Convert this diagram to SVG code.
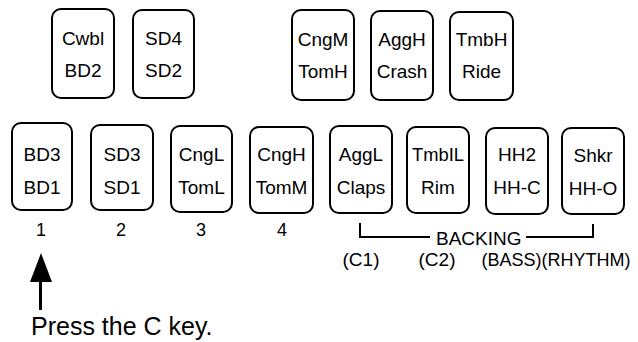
<svg xmlns="http://www.w3.org/2000/svg" width="638" height="342" viewBox="0 0 638 342">
<style>
.k{fill:#fff;stroke:#000;stroke-width:2}
text{font-family:"Liberation Sans",Arial,sans-serif;fill:#000}
.t{font-size:19px;text-anchor:middle}
.n{font-size:18px;text-anchor:middle}
.l{fill:none;stroke:#000;stroke-width:2}
</style>
<rect width="638" height="342" fill="#fff"/>
<g id="k-cwbl"><rect class="k" x="52" y="9" width="62" height="89" rx="9"/><text class="t" x="83" y="45">Cwbl</text><text class="t" x="83" y="77">BD2</text></g>
<g id="k-sd4"><rect class="k" x="133" y="10" width="61" height="88" rx="9"/><text class="t" x="163.5" y="45">SD4</text><text class="t" x="163.5" y="77">SD2</text></g>
<g id="k-cngm"><rect class="k" x="292" y="10" width="62" height="90" rx="9"/><text class="t" x="323" y="46">CngM</text><text class="t" x="323" y="78">TomH</text></g>
<g id="k-aggh"><rect class="k" x="371" y="11" width="62" height="89" rx="9"/><text class="t" x="402" y="46">AggH</text><text class="t" x="402" y="78">Crash</text></g>
<g id="k-tmbh"><rect class="k" x="450" y="12" width="63" height="88" rx="9"/><text class="t" x="481.5" y="46">TmbH</text><text class="t" x="481.5" y="78">Ride</text></g>
<g id="k-bd3"><rect class="k" x="12" y="123" width="60" height="87" rx="9"/><text class="t" x="42" y="161">BD3</text><text class="t" x="42" y="194">BD1</text></g>
<g id="k-sd3"><rect class="k" x="91" y="125" width="62" height="85" rx="9"/><text class="t" x="122" y="161">SD3</text><text class="t" x="122" y="194">SD1</text></g>
<g id="k-cngl"><rect class="k" x="171" y="126" width="61" height="86" rx="9"/><text class="t" x="201.5" y="161">CngL</text><text class="t" x="201.5" y="194">TomL</text></g>
<g id="k-cngh"><rect class="k" x="250" y="127" width="63" height="86" rx="9"/><text class="t" x="281.5" y="161">CngH</text><text class="t" x="281.5" y="194">TomM</text></g>
<g id="k-aggl"><rect class="k" x="330" y="126" width="62" height="87" rx="9"/><text class="t" x="361" y="161">AggL</text><text class="t" x="361" y="194">Claps</text></g>
<g id="k-tmbil"><rect class="k" x="407" y="127" width="62" height="86" rx="9"/><text class="t" x="438" y="161" textLength="52" lengthAdjust="spacingAndGlyphs">TmbIL</text><text class="t" x="438" y="194">Rim</text></g>
<g id="k-hh2"><rect class="k" x="486" y="128" width="62" height="86" rx="9"/><text class="t" x="517" y="161">HH2</text><text class="t" x="517" y="194">HH-C</text></g>
<g id="k-shkr"><rect class="k" x="562" y="128" width="62" height="86" rx="9"/><text class="t" x="593" y="162">Shkr</text><text class="t" x="593" y="195">HH-O</text></g>
<g id="labels">
<text class="n" x="41" y="236">1</text>
<text class="n" x="121" y="236">2</text>
<text class="n" x="201" y="236">3</text>
<text class="n" x="282" y="236">4</text>
<text x="436" y="245" font-size="19">BACKING</text>
<text class="t" x="361" y="266">(C1)</text>
<text class="t" x="437" y="266">(C2)</text>
<text class="n" x="556" y="266">(BASS)(RHYTHM)</text>
<text x="31" y="335" font-size="25">Press the C key.</text>
</g>
<g id="connectors">
<polyline class="l" points="360,223 360,237 430,237"/>
<polyline class="l" points="526,237 593,237 593,224"/>
<line x1="40.5" y1="276" x2="40.5" y2="310" stroke="#000" stroke-width="3"/>
<polygon points="41,253 30,282 52,282" fill="#000"/>
</g>
</svg>
